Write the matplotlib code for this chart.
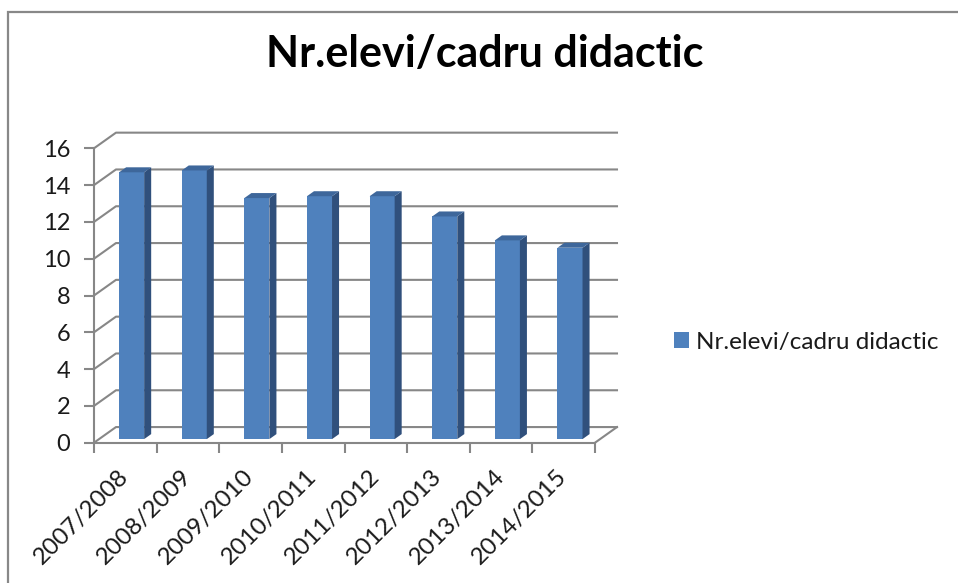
import numpy as np
import matplotlib.pyplot as plt
from matplotlib.patches import Polygon, Rectangle

plt.rcParams['font.family'] = ['Lato', 'DejaVu Sans']

# pupils per teacher, by school year
years = ['2007/2008', '2008/2009', '2009/2010', '2010/2011',
         '2011/2012', '2012/2013', '2013/2014', '2014/2015']
ratio = [14.5, 14.6, 13.1, 13.2, 13.2, 12.1, 10.8, 10.4]
y_ticks = np.arange(0, 17, 2)
series_name = 'Nr.elevi/cadru didactic'

W, H = 958, 583
grid_col = '#878787'
front_col = '#4F81BD'
side_col = '#30507C'
top_col = '#3E679B'
text_col = '#1a1a1a'

fig = plt.figure(figsize=(W / 100, H / 100), dpi=100)

# front plane of the box, in pixels
x0, x1 = 94, 595
yb, yt = 442.7, 148.3
ax = fig.add_axes([x0 / W, 1 - yb / H, (x1 - x0) / W, (yb - yt) / H])
n = len(years)
ax.set_xlim(0, n)
ax.set_ylim(0, 16)

# oblique depth of the box (data units)
dx, dy = 0.351, 0.85

# back wall grid + side wall diagonals
for v in y_ticks:
    ax.plot([0, dx, n + dx], [v, v + dy, v + dy], color=grid_col,
            lw=1.5, clip_on=False, zorder=1)
# right edge of the floor
ax.plot([n, n + dx], [0, dy], color=grid_col, lw=1.5, clip_on=False, zorder=1)

# columns: front face via bar(), side and top faces from the same geometry
w = 0.4
f0, f1 = 0.23, 0.55
ddx, ddy = (f1 - f0) * dx, (f1 - f0) * dy
cx = np.arange(n) + 0.5
bars = ax.bar(cx + f0 * dx + 0.02, ratio, width=w, bottom=f0 * dy,
              color=front_col, zorder=3, label=series_name)
for b in bars:
    l = b.get_x()
    r = l + b.get_width()
    bot = b.get_y()
    top = bot + b.get_height()
    side = Polygon([(r, bot), (r + ddx, bot + ddy), (r + ddx, top + ddy), (r, top)],
                   closed=True, facecolor=side_col, edgecolor='none',
                   zorder=3, clip_on=False)
    cap = Polygon([(l, top), (r, top), (r + ddx, top + ddy), (l + ddx, top + ddy)],
                  closed=True, facecolor=top_col, edgecolor='none',
                  zorder=3, clip_on=False)
    ax.add_patch(side)
    ax.add_patch(cap)

for s in ['top', 'right']:
    ax.spines[s].set_visible(False)
for s in ['left', 'bottom']:
    ax.spines[s].set_color(grid_col)
    ax.spines[s].set_linewidth(1.5)
    ax.spines[s].set_zorder(4)

ax.set_yticks(y_ticks)
ax.tick_params(axis='y', direction='out', length=7, width=1.5, color=grid_col,
               labelsize=17, pad=10, labelcolor=text_col)

ax.set_xticks(np.arange(n + 1), minor=True)
ax.set_xticks(cx)
ax.set_xticklabels(years, rotation=45, ha='right', va='center',
                   rotation_mode='anchor')
ax.tick_params(axis='x', which='minor', direction='out', length=7, width=1.5,
               color=grid_col)
ax.tick_params(axis='x', which='major', length=0, labelsize=17.5, pad=22,
               labelcolor=text_col)
ax.set_facecolor('none')

fig.text(485 / W, 1 - 67 / H, series_name, ha='center', va='baseline',
         fontsize=31, fontweight='bold', color='black')

fig.legend(handles=[bars], labels=[series_name], loc='center left',
           bbox_to_anchor=(674 / W, 1 - 342 / H), frameon=False,
           fontsize=17.5, handlelength=0.62, handleheight=0.62,
           handletextpad=0.3, borderpad=0, borderaxespad=0,
           labelcolor=text_col)

# chart area border (runs off the right and bottom edges)
fig.patches.append(Rectangle((8 / W, -0.1), 2, 1 - 12 / H + 0.1,
                             transform=fig.transFigure, fill=False,
                             edgecolor='#888888', lw=1.6))

fig.savefig('out.png', dpi=100)
